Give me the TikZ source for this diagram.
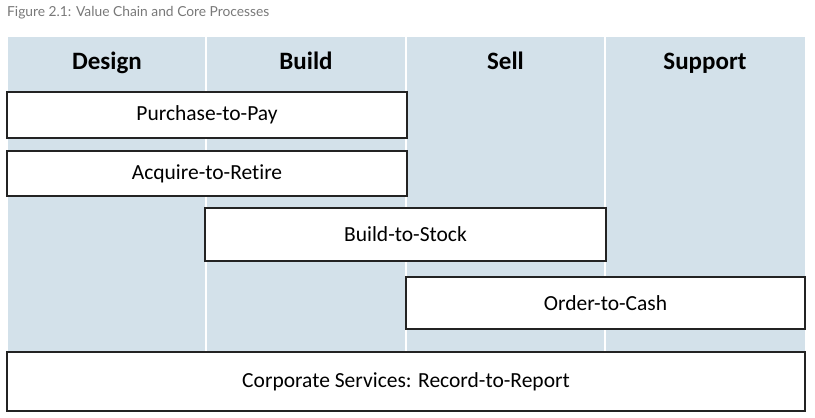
\documentclass[tikz,border=0pt]{standalone}
\usepackage{fontspec}
\setmainfont[Ligatures=NoCommon]{Carlito}
\newfontfamily\captionfont{Lato}
\usetikzlibrary{positioning}

\definecolor{colblue}{RGB}{211,225,234}
\definecolor{captiongray}{RGB}{120,120,120}
\definecolor{boxline}{RGB}{35,35,35}

\begin{document}
\begin{tikzpicture}[x=1pt, y=-1pt,
	procbox/.style={rectangle, draw=boxline, line width=1.5pt, fill=white,
		inner sep=0pt, font=\fontsize{21.5}{24}\selectfont},
	colhead/.style={anchor=base, font=\fontsize{25}{28}\selectfont\bfseries}]
				\useasboundingbox (0,0) rectangle (815,418);
				\node (cap) [anchor=west, text=captiongray, inner sep=0pt,
				font=\captionfont\fontsize{13.8}{16}\selectfont] at (7,13)
				{Figure 2.1: Value Chain and Core Processes};
				% column background
				\fill [colblue] (8,37) rectangle (805,352);
				\foreach \xd in {206,406,605}
					\draw [white, line width=2pt] (\xd,37) -- (\xd,352);
				\node (h1) [colhead] at (107,69) {Design};
				\node (h2) [colhead] at (306,69) {Build};
				\node (h3) [colhead] at (505.5,69) {Sell};
				\node (h4) [colhead] at (705,69) {Support};
				% processes
				\node (p2p) [procbox, minimum width=400pt, minimum height=46pt]
				at (207,115) {Purchase-to-Pay};
				\node (a2r) [procbox, minimum width=400pt, minimum height=45pt]
				at (207,173.5) {Acquire-to-Retire};
				\node (b2s) [procbox, minimum width=401pt, minimum height=53pt]
				at (405.5,234.5) {Build-to-Stock};
				\node (o2c) [procbox, minimum width=399pt, minimum height=52pt]
				at (605.5,303) {Order-to-Cash};
				\node (r2r) [procbox, minimum width=798pt, minimum height=59pt]
				at (406,381.5) {Corporate Services: Record-to-Report};
			\end{tikzpicture}
\end{document}
